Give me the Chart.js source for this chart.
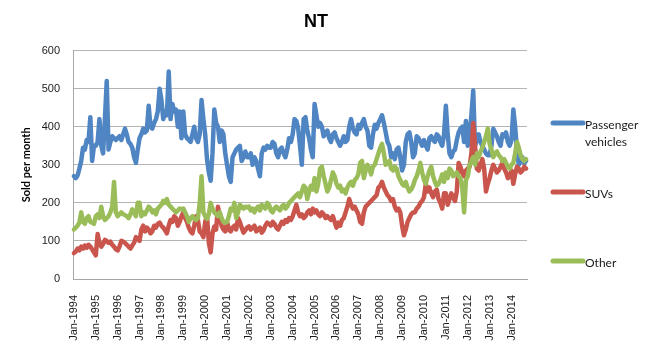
<!DOCTYPE html>
<html>
<head>
<meta charset="utf-8">
<script src="https://cdn.jsdelivr.net/npm/chart.js@4.4.1/dist/chart.umd.min.js"></script>
<style>
  html, body { margin: 0; padding: 0; background: #fff; }
  #wrap { width: 660px; height: 352px; }
</style>
</head>
<body>
<div id="wrap"><canvas id="myChart"></canvas></div>
<script>
// Monthly sales in NT, Jan-1994 to Sep-2014 (one row per year)
const startYear = 1994;
const monthNames = ["Jan", "Feb", "Mar", "Apr", "May", "Jun", "Jul", "Aug", "Sep", "Oct", "Nov", "Dec"];

const passenger = [
  270,265,272,290,310,345,340,365,360,425,310,350,
  350,360,420,350,330,420,520,340,360,375,370,365,
  370,375,365,380,395,380,360,355,345,320,305,340,
  370,380,395,385,390,455,400,395,410,420,440,500,
  470,420,440,430,545,420,460,440,445,400,440,370,
  440,380,370,365,360,380,400,370,360,380,470,420,
  380,315,280,258,330,445,410,400,360,390,380,330,
  300,270,255,320,330,340,345,350,310,320,335,320,
  320,330,300,320,310,290,270,330,345,340,350,345,
  345,360,355,330,320,340,345,330,320,340,370,360,
  380,420,415,395,350,300,420,425,390,370,340,320,
  460,430,400,410,400,375,385,390,370,360,380,385,
  370,360,350,360,375,360,365,400,420,395,385,380,
  405,395,410,420,400,390,350,345,380,405,395,410,
  420,430,410,385,360,350,320,330,315,340,345,320,
  285,300,360,380,385,360,320,330,375,370,360,350,
  365,350,340,370,375,365,360,380,375,360,350,380,
  455,380,330,320,335,340,365,385,395,400,360,415,
  350,380,430,495,350,365,380,360,350,340,330,325,
  325,350,395,385,375,360,350,380,375,385,360,350,
  365,445,400,340,300,310,320,305,310
];

const suvs = [
  68,72,80,75,85,80,88,82,90,85,78,70,
  62,118,95,85,92,103,100,95,98,90,85,78,
  75,85,100,98,95,90,85,80,88,95,110,105,
  100,130,140,125,135,130,120,125,140,135,145,148,
  140,135,128,120,140,155,150,165,160,140,150,165,
  175,160,150,135,125,120,140,165,155,125,120,110,
  150,165,95,70,120,138,130,190,165,140,130,125,
  150,130,125,135,140,130,160,150,135,122,128,135,
  138,130,135,140,125,130,135,122,128,140,148,145,
  140,150,145,135,130,140,150,145,155,150,160,155,
  165,180,195,175,165,170,160,165,175,180,170,185,
  175,180,170,165,175,170,160,165,160,155,165,150,
  135,148,140,155,160,175,190,210,195,185,190,180,
  170,150,145,175,190,195,200,205,210,215,220,240,
  245,255,240,230,220,215,205,210,190,180,185,175,
  140,115,130,150,160,170,175,175,185,190,200,205,
  215,250,230,240,225,215,230,235,210,200,185,225,
  225,195,210,225,215,205,230,305,295,280,270,285,
  290,295,330,410,350,290,285,300,315,290,230,250,
  265,285,300,290,280,285,295,305,290,280,265,270,
  285,250,275,295,290,280,285,295,290
];

const other = [
  130,135,140,148,175,150,145,160,165,150,148,145,
  165,170,160,190,165,155,160,165,175,190,255,175,
  165,170,175,170,168,165,160,170,183,175,165,200,
  200,165,175,170,180,190,185,175,180,170,185,190,
  195,205,200,210,195,190,185,180,175,180,185,183,
  185,175,165,150,160,165,158,155,160,200,270,175,
  165,158,170,200,185,175,170,165,175,160,150,148,
  150,165,185,180,200,160,175,195,190,185,190,188,
  190,180,185,175,185,190,180,195,190,185,200,195,
  180,175,185,190,185,180,190,195,185,190,200,205,
  210,215,220,225,215,230,245,240,210,230,245,235,
  265,230,250,290,295,270,250,230,240,260,280,270,
  250,240,245,230,235,225,240,250,255,245,260,265,
  275,305,310,265,285,300,290,275,295,300,315,330,
  345,355,330,300,305,310,290,285,295,290,270,260,
  250,245,255,240,230,235,245,260,270,285,305,280,
  260,250,270,285,295,270,255,245,250,260,275,255,
  280,265,290,285,270,275,280,270,265,240,175,260,
  270,300,310,320,300,330,320,335,345,360,375,395,
  355,340,320,330,335,325,320,310,315,305,295,290,
  300,305,330,360,345,325,315,310,315
];

const yTicks = [0, 100, 200, 300, 400, 500, 600];

// one category per month
const categories = passenger.map((v, i) => monthNames[i % 12] + "-" + (startYear + Math.floor(i / 12)));

// Legend drawn at the right of the plot, like the Excel original
const sideLegend = {
  id: "sideLegend",
  afterDraw(chart, args, opts) {
    const ctx = chart.ctx;
    const x0 = chart.chartArea.right + opts.offsetX;
    ctx.save();
    ctx.font = opts.font;
    ctx.textBaseline = "middle";
    ctx.fillStyle = "#1a1a1a";
    chart.data.datasets.forEach((ds, i) => {
      const y = opts.rows[i];
      ctx.strokeStyle = ds.borderColor;
      ctx.lineWidth = 5;
      ctx.lineCap = "round";
      ctx.beginPath();
      ctx.moveTo(x0, y);
      ctx.lineTo(x0 + opts.lineLength, y);
      ctx.stroke();

      // wrap long labels
      const words = ds.label.split(" ");
      const lines = [];
      let cur = "";
      words.forEach((w) => {
        const t = cur ? cur + " " + w : w;
        if (cur && ctx.measureText(t).width > opts.maxWidth) {
          lines.push(cur);
          cur = w;
        } else {
          cur = t;
        }
      });
      lines.push(cur);
      lines.forEach((ln, k) => {
        ctx.fillText(ln, x0 + opts.lineLength + 2, y + 2 + k * opts.lineHeight);
      });
    });
    ctx.restore();
  }
};

const ctx = document.getElementById("myChart").getContext("2d");
const myChart = new Chart(ctx, {
  type: "line",
  data: {
    labels: categories,
    datasets: [
      { label: "Passenger vehicles", data: passenger, borderColor: "#4F85C3", order: 3 },
      { label: "SUVs", data: suvs, borderColor: "#C9554D", order: 2 },
      { label: "Other", data: other, borderColor: "#9BBD59", order: 1 }
    ]
  },
  options: {
    responsive: true,
    maintainAspectRatio: false,
    animation: false,
    devicePixelRatio: 1,
    elements: {
      line: { borderWidth: 4.5, tension: 0, borderJoinStyle: "round", borderCapStyle: "round" },
      point: { radius: 0 }
    },
    layout: { padding: { left: 0, right: 28, top: 0, bottom: 0 } },
    plugins: {
      legend: { display: false },
      tooltip: { enabled: false },
      title: {
        display: true,
        text: "NT",
        color: "#000",
        font: { family: "Liberation Sans", size: 18, weight: "bold" },
        padding: { top: 11, bottom: 18 }
      },
      sideLegend: {
        offsetX: 26,
        lineLength: 30,
        rows: [123, 192, 261],
        lineHeight: 17,
        maxWidth: 70,
        font: "12px Lato"
      }
    },
    scales: {
      x: {
        offset: true,
        grid: { display: false },
        border: { display: true, color: "#a6a6a6", width: 1 },
        ticks: {
          autoSkip: false,
          minRotation: 90,
          maxRotation: 90,
          padding: 8,
          color: "#1a1a1a",
          font: { family: "Liberation Sans", size: 11 },
          callback: function (value, index) {
            return index % 12 === 0 ? this.getLabelForValue(value) : null;
          }
        },
        afterFit: (scale) => { scale.height = 73; }
      },
      y: {
        min: 0,
        max: 600,
        afterBuildTicks: (scale) => { scale.ticks = yTicks.map((v) => ({ value: v })); },
        grid: { color: "#b3b3b3", lineWidth: 1, drawTicks: false },
        border: { display: true, color: "#a6a6a6", width: 1 },
        ticks: {
          padding: 13,
          color: "#1a1a1a",
          font: { family: "Liberation Sans", size: 11 }
        },
        title: {
          display: true,
          text: "Sold per month",
          color: "#000",
          font: { family: "Lato", size: 11, weight: "bold" },
          padding: { top: 20, bottom: 0 }
        },
        afterFit: (scale) => { scale.width = 73; }
      },
      side: {
        position: "right",
        display: true,
        grid: { display: false },
        border: { display: false },
        ticks: { display: false },
        afterFit: (scale) => { scale.width = 105; }
      }
    }
  },
  plugins: [sideLegend]
});
</script>
</body>
</html>
